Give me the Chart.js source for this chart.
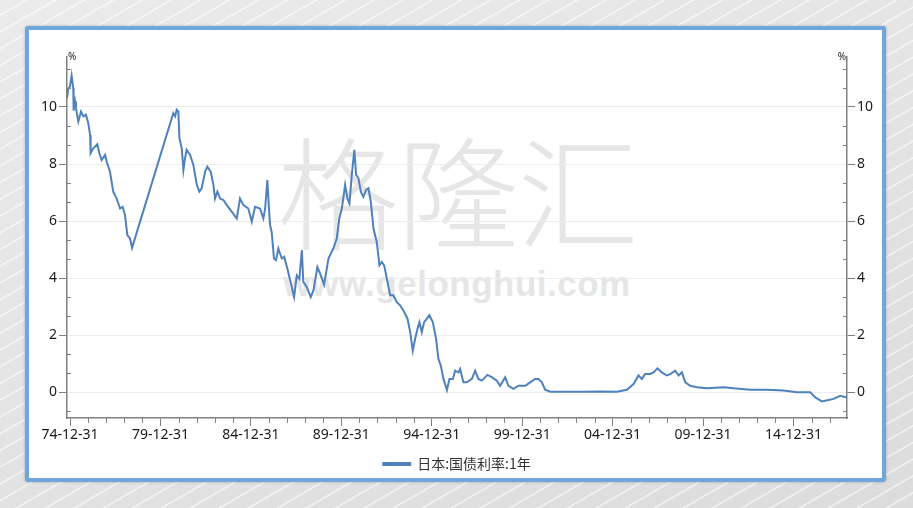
<!DOCTYPE html>
<html>
<head>
<meta charset="utf-8">
<script src="https://cdn.jsdelivr.net/npm/chart.js@4.4.0/dist/chart.umd.min.js"></script>
<style>
  html, body { margin: 0; padding: 0; width: 913px; height: 508px; overflow: hidden; }
  body {
    position: relative;
    background:
      repeating-linear-gradient(150deg, rgba(255,255,255,0) 0px, rgba(255,255,255,0) 12px, rgba(255,255,255,0.75) 13px, rgba(255,255,255,0) 14.5px),
      linear-gradient(160deg, #ebebeb, #dcdcdc);
  }
  #panel {
    position: absolute; left: 25px; top: 26px; width: 853px; height: 448px;
    border: 4px solid #6fa6dc; border-radius: 3px; background: #fff;
    box-shadow: 0 0 3px rgba(0,0,0,0.25);
  }
  .wm { position: absolute; color: #e6e6e6; white-space: nowrap; text-align: center; }
  #wm1 { left: 250px; top: 112px; width: 414px; font: 300 122px "Noto Sans CJK SC"; line-height: 150px; letter-spacing: -2px; }
  #wm2 { left: 250px; top: 262px; width: 414px; font: bold 35px "Liberation Sans"; line-height: 44px; letter-spacing: 0.5px; }
  #chart { position: absolute; left: 0; top: 0; }
</style>
</head>
<body>
<div id="panel"></div>
<div class="wm" id="wm1">格隆汇</div>
<div class="wm" id="wm2">www.gelonghui.com</div>
<canvas id="chart" width="913" height="508"></canvas>
<script>
// 日本:国债利率:1年 — x is a decimal year (1975.0 = 74-12-31)
const seriesName = '日本:国债利率:1年';
const years = [
  1974.83, 1974.91, 1975.00, 1975.09, 1975.18, 1975.20, 1975.28, 1975.33, 1975.46, 1975.61,
  1975.74, 1975.88, 1976.01, 1976.11, 1976.14, 1976.29, 1976.51, 1976.62, 1976.75, 1976.94,
  1977.03, 1977.21, 1977.39, 1977.58, 1977.77, 1977.91, 1978.04, 1978.17, 1978.32, 1978.43,
  1980.71, 1980.81, 1980.90, 1980.99, 1981.05, 1981.18, 1981.27, 1981.36, 1981.45, 1981.64,
  1981.82, 1982.01, 1982.15, 1982.28, 1982.47, 1982.59, 1982.78, 1982.93, 1983.02, 1983.15,
  1983.30, 1983.48, 1983.67, 1983.94, 1984.22, 1984.40, 1984.59, 1984.86, 1985.05, 1985.23,
  1985.51, 1985.69, 1985.79, 1985.91, 1985.99, 1986.06, 1986.15, 1986.28, 1986.39, 1986.52,
  1986.71, 1986.84, 1987.02, 1987.17, 1987.39, 1987.54, 1987.68, 1987.82, 1987.90, 1988.09,
  1988.31, 1988.46, 1988.68, 1988.83, 1989.05, 1989.29, 1989.56, 1989.75, 1989.89, 1990.03,
  1990.21, 1990.34, 1990.45, 1990.58, 1990.72, 1990.82, 1990.95, 1991.08, 1991.22, 1991.37,
  1991.50, 1991.63, 1991.78, 1991.96, 1992.11, 1992.24, 1992.37, 1992.52, 1992.70, 1992.88,
  1993.07, 1993.25, 1993.43, 1993.66, 1993.81, 1993.95, 1994.08, 1994.21, 1994.32, 1994.45,
  1994.58, 1994.73, 1994.87, 1995.06, 1995.24, 1995.37, 1995.50, 1995.65, 1995.84, 1995.98,
  1996.17, 1996.29, 1996.48, 1996.57, 1996.75, 1996.94, 1997.22, 1997.40, 1997.58, 1997.77,
  1998.08, 1998.32, 1998.60, 1998.78, 1999.06, 1999.24, 1999.52, 1999.80, 2000.17, 2000.44,
  2000.72, 2000.90, 2001.09, 2001.27, 2001.55, 2002.47, 2003.39, 2004.31, 2005.24, 2005.79,
  2006.16, 2006.43, 2006.62, 2006.80, 2007.08, 2007.26, 2007.48, 2007.72, 2008.00, 2008.19,
  2008.46, 2008.65, 2008.83, 2009.02, 2009.29, 2009.66, 2010.22, 2011.13, 2011.69, 2012.61,
  2013.53, 2014.45, 2015.19, 2015.93, 2016.21, 2016.57, 2016.94, 2017.22, 2017.59, 2017.96
];
const yields = [
  10.31, 10.64, 10.72, 11.10, 10.66, 9.87, 10.19, 9.96, 9.49, 9.84,
  9.67, 9.73, 9.43, 9.02, 8.38, 8.55, 8.69, 8.38, 8.14, 8.32,
  8.08, 7.73, 7.03, 6.79, 6.44, 6.50, 6.21, 5.51, 5.39, 5.06,
  9.78, 9.67, 9.90, 9.84, 8.90, 8.55, 7.79, 8.20, 8.50, 8.32,
  7.97, 7.27, 7.03, 7.15, 7.73, 7.91, 7.73, 7.27, 6.79, 7.03,
  6.79, 6.74, 6.56, 6.33, 6.09, 6.79, 6.56, 6.44, 5.98, 6.50,
  6.44, 6.09, 6.44, 7.44, 6.56, 5.86, 5.62, 4.69, 4.63, 5.04,
  4.69, 4.75, 4.33, 3.93, 3.34, 4.10, 3.98, 4.98, 3.87, 3.69,
  3.34, 3.57, 4.39, 4.16, 3.77, 4.69, 5.04, 5.39, 6.09, 6.44,
  7.27, 6.79, 6.62, 7.62, 8.50, 7.62, 7.50, 7.03, 6.85, 7.09,
  7.15, 6.68, 5.74, 5.27, 4.45, 4.57, 4.45, 3.98, 3.40, 3.40,
  3.16, 3.05, 2.87, 2.58, 2.11, 1.46, 1.87, 2.22, 2.46, 2.11,
  2.46, 2.58, 2.70, 2.46, 1.87, 1.17, 0.94, 0.47, 0.08, 0.47,
  0.47, 0.76, 0.70, 0.82, 0.35, 0.35, 0.47, 0.76, 0.47, 0.41,
  0.61, 0.53, 0.41, 0.23, 0.53, 0.23, 0.12, 0.23, 0.23, 0.35,
  0.47, 0.47, 0.35, 0.09, 0.02, 0.02, 0.02, 0.03, 0.02, 0.09,
  0.29, 0.59, 0.47, 0.64, 0.64, 0.70, 0.84, 0.70, 0.59, 0.64,
  0.76, 0.59, 0.70, 0.35, 0.23, 0.18, 0.14, 0.18, 0.14, 0.09,
  0.09, 0.06, 0.00, 0.00, -0.18, -0.32, -0.27, -0.23, -0.12, -0.18
];

// axes: yearly ticks on x (labelled every 5 years), y ticks every 2/3 (labelled every 2)
const xMin = 1974.834, xMax = 2017.96;
const yMin = -0.9, yMax = 11.75;
const xTickYears = [];
for (let y = 1975; y <= 2017; y++) xTickYears.push(y);
const yTickValues = [];
for (let k = -1; k <= 17; k++) yTickValues.push(Math.round(k * 2 / 3 * 1000) / 1000);

const lineColor = '#4f81bd';
const axisColor = '#808080';
const tickFont = { family: 'Noto Sans', size: 14 };

const isMajorY = v => Math.abs(v / 2 - Math.round(v / 2)) < 1e-6;
const isMajorX = v => Math.abs((v - 1975) / 5 - Math.round((v - 1975) / 5)) < 1e-6;

function yAxis(position) {
    return {
        type: 'linear',
        position: position,
        min: yMin,
        max: yMax,
        afterBuildTicks: scale => { scale.ticks = yTickValues.map(v => ({ value: v })); },
        afterFit: scale => { scale.width = 30; },
        border: { color: axisColor, width: 1.5 },
        grid: {
            drawOnChartArea: position === 'left',
            color: c => (c.tick && isMajorY(c.tick.value)) ? '#ececec' : 'rgba(0,0,0,0)',
            tickColor: c => (c.tick && isMajorY(c.tick.value)) ? axisColor : 'rgba(0,0,0,0)',
            tickLength: 8
        },
        ticks: {
            autoSkip: false,
            padding: 2,
            color: '#1a1a1a',
            font: tickFont,
            callback: v => isMajorY(v) ? String(Math.round(v)) : ''
        }
    };
}

// short inward/outward minor ticks plus the "%" unit labels
const axisExtras = {
    id: 'axisExtras',
    afterDraw(chart) {
        const ctx = chart.ctx;
        ctx.save();
        ctx.strokeStyle = axisColor;
        ctx.lineWidth = 1;
        ctx.beginPath();
        ['y', 'y2'].forEach(id => {
            const s = chart.scales[id];
            const x0 = id === 'y' ? s.right : s.left;
            const dir = id === 'y' ? 1 : -1;
            s.ticks.forEach(t => {
                if (isMajorY(t.value)) return;
                const py = Math.round(s.getPixelForValue(t.value)) + 0.5;
                ctx.moveTo(x0, py);
                ctx.lineTo(x0 + dir * 4, py);
            });
        });
        const xs = chart.scales.x;
        xs.ticks.forEach(t => {
            if (isMajorX(t.value)) return;
            const px = Math.round(xs.getPixelForValue(t.value)) + 0.5;
            ctx.moveTo(px, xs.top);
            ctx.lineTo(px, xs.top + 5);
        });
        ctx.stroke();

        const area = chart.chartArea;
        ctx.fillStyle = '#1a1a1a';
        ctx.font = '10px "Noto Sans"';
        ctx.textBaseline = 'middle';
        ctx.textAlign = 'left';
        ctx.fillText('%', area.left + 1, area.top);
        ctx.textAlign = 'right';
        ctx.fillText('%', area.right - 1, area.top);
        ctx.restore();
    }
};

new Chart(document.getElementById('chart'), {
    type: 'line',
    data: {
        datasets: [{
            label: seriesName,
            data: years.map((x, i) => ({ x: x, y: yields[i] })),
            borderColor: lineColor,
            backgroundColor: lineColor,
            borderWidth: 2,
            pointRadius: 0,
            tension: 0,
            fill: false
        }]
    },
    options: {
        responsive: false,
        animation: false,
        devicePixelRatio: 1,
        layout: { padding: { left: 37, right: 36, top: 57, bottom: 27 } },
        scales: {
            x: {
                type: 'linear',
                min: xMin,
                max: xMax,
                afterBuildTicks: scale => { scale.ticks = xTickYears.map(v => ({ value: v })); },
                afterFit: scale => { scale.height = 29; },
                border: { color: axisColor, width: 1.5 },
                grid: {
                    drawOnChartArea: false,
                    tickColor: c => (c.tick && isMajorX(c.tick.value)) ? axisColor : 'rgba(0,0,0,0)',
                    tickLength: 8
                },
                ticks: {
                    autoSkip: false,
                    maxRotation: 0,
                    padding: 1,
                    color: '#1a1a1a',
                    font: tickFont,
                    callback: v => isMajorX(v) ? String(Math.round(v) - 1).slice(2) + '-12-31' : ''
                }
            },
            y: yAxis('left'),
            y2: yAxis('right')
        },
        plugins: {
            legend: {
                position: 'bottom',
                labels: {
                    boxWidth: 27,
                    boxHeight: 2,
                    color: '#333',
                    font: { family: 'Noto Sans CJK SC', size: 14 }
                }
            },
            tooltip: { enabled: false }
        }
    },
    plugins: [axisExtras]
});
</script>
</body>
</html>
